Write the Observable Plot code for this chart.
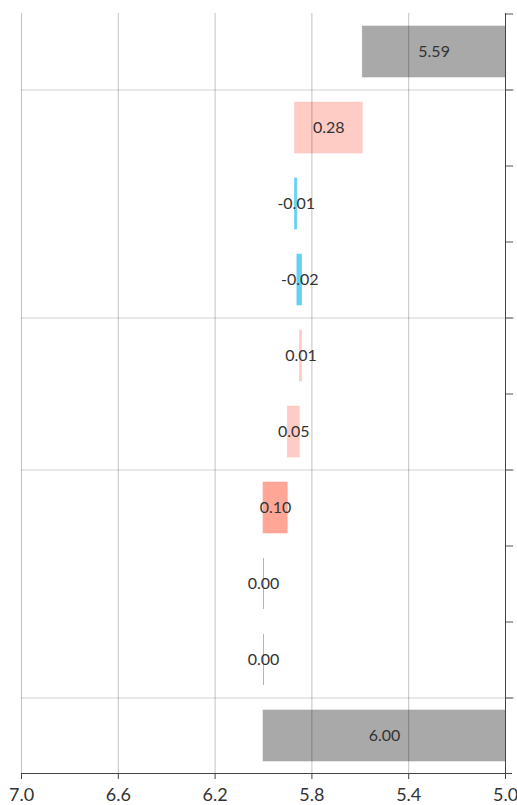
<!DOCTYPE html>
<html>
<head>
<meta charset="utf-8">
<script src="https://cdn.jsdelivr.net/npm/d3@7"></script>
<script src="https://cdn.jsdelivr.net/npm/@observablehq/plot@0.6"></script>
<style>
  html, body { margin: 0; padding: 0; background: #fff; }
  #chart svg { display: block; }
</style>
</head>
<body>
<div id="chart"></div>
<script>
// Categories, top to bottom
const categories = ["End", "d8", "d7", "d6", "d5", "d4", "d3", "d2", "d1", "Start"];
// Values shown on each bar
const values = [5.59, 0.28, -0.01, -0.02, 0.01, 0.05, 0.10, 0.00, 0.00, 6.00];
// Bar kinds (total / increase tone / decrease)
const kinds = ["total", "up", "down", "down", "up", "up", "upStrong", "down", "down", "total"];
// Group separators (above these categories)
const groupStarts = ["d8", "d5", "d3", "Start"];
// X tick labels
const xTicks = [7.0, 6.6, 6.2, 5.8, 5.4, 5.0];

const xBase = 5.0;
const n = categories.length;
const rows = new Array(n);
let run = values[n - 1];
rows[n - 1] = {cat: categories[n - 1], v: values[n - 1], kind: kinds[n - 1], x1: values[n - 1], x2: xBase};
for (let i = n - 2; i >= 1; i--) {
  const x1 = run, x2 = run - values[i];
  rows[i] = {cat: categories[i], v: values[i], kind: kinds[i], x1, x2};
  run = x2;
}
rows[0] = {cat: categories[0], v: values[0], kind: kinds[0], x1: values[0], x2: xBase};
rows.forEach(r => { r.xm = (r.x1 + r.x2) / 2; r.label = r.v.toFixed(2); });
const zeroRows = rows.filter(r => r.v === 0);

const colorScale = {
  domain: ["total", "up", "upStrong", "down"],
  range: ["#a8a9a8", "#ffcbc5", "#ffa696", "#64d3f3"]
};

const chart = Plot.plot({
  width: 517,
  height: 805,
  marginLeft: 21,
  marginRight: 12,
  marginTop: 13,
  marginBottom: 32,
  style: {fontFamily: "Lato, 'Open Sans', sans-serif", fontSize: "16px", color: "#333", background: "#fff"},
  x: {domain: [7, 5], ticks: xTicks, tickFormat: d3.format(".1f")},
  y: {domain: categories, paddingInner: 0.33, paddingOuter: 0.165},
  color: colorScale,
  marks: [
    Plot.rectX(rows, {y: "cat", x1: "x1", x2: "x2", fill: "kind", stroke: "kind", strokeWidth: 0.6}),
    Plot.tickX(zeroRows, {y: "cat", x: "x1", stroke: "kind", strokeWidth: 1}),
    Plot.gridX(xTicks, {stroke: "#000", strokeOpacity: 0.24}),
    Plot.ruleY(groupStarts, {y: d => d, dy: -38, stroke: "#000", strokeOpacity: 0.18, insetRight: -10}),
    Plot.frame({anchor: "right", stroke: "#444", strokeOpacity: 1}),
    Plot.frame({anchor: "bottom", stroke: "#444", strokeOpacity: 1, insetRight: -6}),
    Plot.axisY(categories, {anchor: "right", tickSize: 7, tickFormat: () => "", dy: -38, stroke: "#555", label: null}),
    Plot.axisX({ticks: xTicks, tickFormat: d3.format(".1f"), tickSize: 6, tickPadding: 9, fontSize: 18, fill: "#333", stroke: "#444", label: null}),
    Plot.text(rows, {y: "cat", x: "xm", text: "label", fill: "#333", fontSize: 16})
  ]
});
document.getElementById("chart").appendChild(chart);
</script>
</body>
</html>
